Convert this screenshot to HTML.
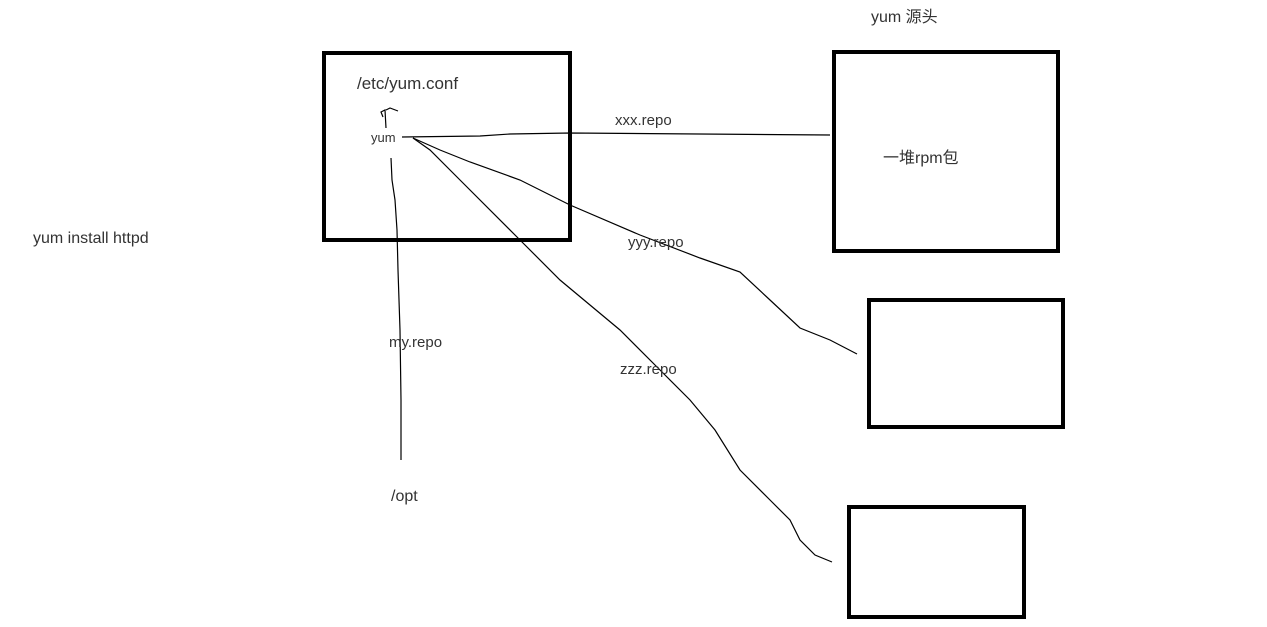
<!DOCTYPE html>
<html><head><meta charset="utf-8"><style>
html,body{margin:0;padding:0;background:#fff;}
svg{display:block;}
text{font-family:"Liberation Sans","Noto Sans CJK SC",sans-serif;fill:#333;}
</style></head><body>
<svg width="1267" height="627" viewBox="0 0 1267 627" xmlns="http://www.w3.org/2000/svg">
<g fill="none" stroke="#000" stroke-width="4">
<rect x="324" y="53" width="246" height="187"/>
<rect x="834" y="52" width="224" height="199"/>
<rect x="869" y="300" width="194" height="127"/>
<rect x="849" y="507" width="175" height="110"/>
</g>
<g fill="none" stroke="#000" stroke-width="1.2">
<path d="M402 137 L480 136 L510 134 L570 133 L830 135"/>
<path d="M413 138 L440 150 L470 162 L520 180 L570 205 L640 235 L700 258 L740 272 L770 300 L800 328 L830 340 L857 354"/>
<path d="M413 138 L430 150 L460 180 L520 240 L560 280 L620 330 L660 370 L690 400 L715 430 L740 470 L770 500 L790 520 L800 540 L815 555 L832 562"/>
<path d="M391 158 L392 180 L395 200 L397 230 L398 270 L400 330 L401 400 L401 460"/>
<path d="M383 117 L381 112 L385 110 L386 128 M386 110 L390 108 L398 111"/>
</g>
<text x="357" y="89" font-size="17">/etc/yum.conf</text>
<text x="371" y="142" font-size="13">yum</text>
<text x="615" y="125" font-size="15">xxx.repo</text>
<text x="628" y="247" font-size="15">yyy.repo</text>
<text x="620" y="374" font-size="15">zzz.repo</text>
<text x="389" y="347" font-size="15">my.repo</text>
<text x="391" y="501" font-size="16">/opt</text>
<text x="33" y="243" font-size="16">yum install httpd</text>
<text x="871" y="22" font-size="16">yum 源头</text>
<text x="883" y="163" font-size="16">一堆rpm包</text>
</svg>
</body></html>
